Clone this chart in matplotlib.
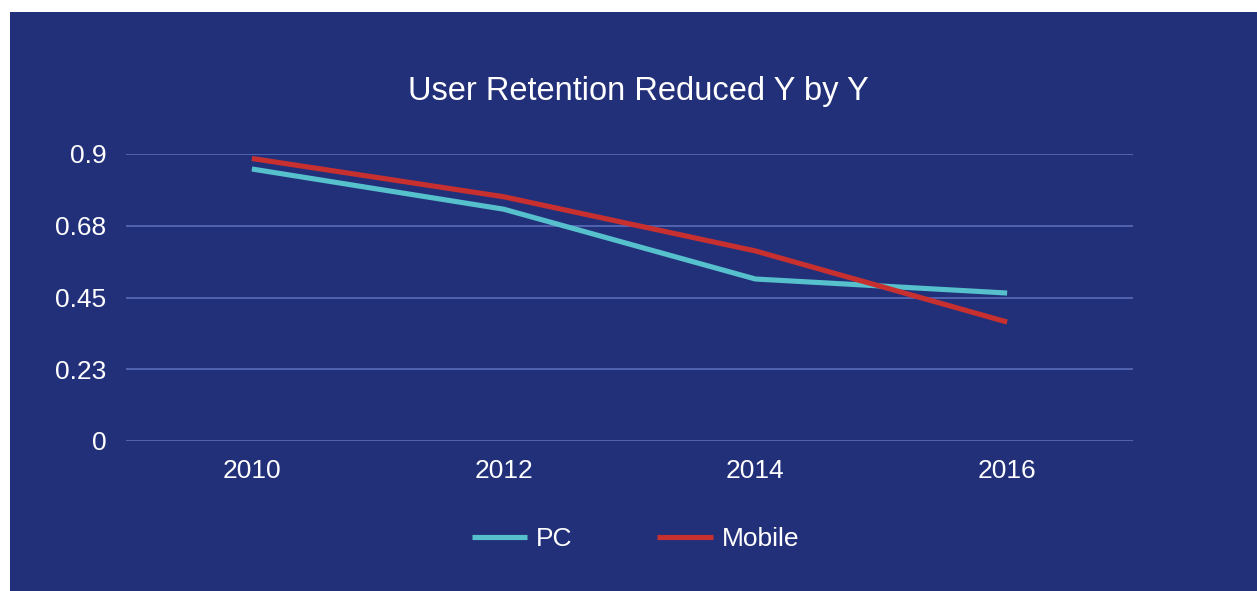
import matplotlib.pyplot as plt
from matplotlib.patches import Rectangle

years = ["2010", "2012", "2014", "2016"]
pc = [0.853, 0.727, 0.508, 0.464]
mobile = [0.886, 0.766, 0.596, 0.373]
y_ticks = [0, 0.225, 0.45, 0.675, 0.9]
y_labels = ["0", "0.23", "0.45", "0.68", "0.9"]

bg = "#22307A"
plt.rcParams['font.family'] = ['Liberation Sans', 'DejaVu Sans']

fig = plt.figure(figsize=(12.57, 5.91), dpi=100, facecolor="white")
# dark panel behind the chart
fig.patches.append(Rectangle((10 / 1257, 0), 1 - 10 / 1257, 1 - 12 / 591,
                             transform=fig.transFigure, facecolor=bg,
                             edgecolor="none", zorder=-1))

ax = fig.add_axes([126 / 1257, 1 - 441 / 591, (1133 - 126) / 1257, (441 - 154) / 591])
ax.set_facecolor(bg)
ax.patch.set_alpha(0)

x = range(len(years))
ax.plot(x, pc, color="#56C1CC", linewidth=3.7, label="PC", clip_on=False,
        solid_capstyle="butt", zorder=3)
ax.plot(x, mobile, color="#C8302F", linewidth=3.7, label="Mobile", clip_on=False,
        solid_capstyle="butt", zorder=3)

ax.set_xlim(-0.5, 3.5)
ax.set_ylim(0, 0.9)
ax.set_xticks(list(x))
ax.set_xticklabels(years)
ax.set_yticks(y_ticks)
ax.set_yticklabels(y_labels)
ax.grid(axis="y", color="#5A6BB8", linewidth=1.2)
ax.set_axisbelow(True)
for s in ax.spines.values():
    s.set_visible(False)
ax.tick_params(axis="both", length=0, labelsize=19, labelcolor="white")
ax.tick_params(axis="y", pad=14)
ax.tick_params(axis="x", pad=13)

fig.text(0.508, 1 - 100 / 591, "User Retention Reduced Y by Y", color="white",
         fontsize=23.5, ha="center", va="baseline")

fig.legend(loc="center", bbox_to_anchor=(0.5055, 1 - 539 / 591), ncol=2,
           frameon=False, fontsize=19, labelcolor="white", handlelength=2.1,
           handletextpad=0.35, columnspacing=3.2)

fig.savefig("out.png", dpi=100, facecolor="white")
